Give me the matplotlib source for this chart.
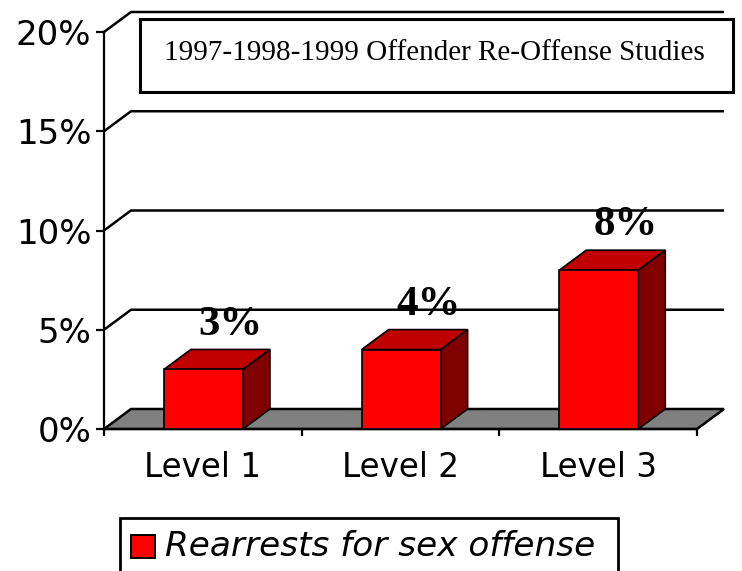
import matplotlib
matplotlib.use("Agg")
import matplotlib.pyplot as plt
from matplotlib.patches import Polygon, Rectangle

categories = ["Level 1", "Level 2", "Level 3"]
values = [3, 4, 8]
value_labels = ["3%", "4%", "8%"]
yticks = [0, 5, 10, 15, 20]
ytick_labels = ["0%", "5%", "10%", "15%", "20%"]
series_name = "Rearrests for sex offense"
box_title = "1997-1998-1999 Offender Re-Offense Studies"

W, H = 742, 571
fig = plt.figure(figsize=(W / 100, H / 100), dpi=100)
ax = fig.add_axes([104 / W, 1 - 429 / H, 593 / W, 397 / H])
ax.set_xlim(0, 3)
ax.set_ylim(0, 20)
ax.patch.set_visible(False)

# depth of the fake 3d, in data units
dx = 27 / (593 / 3)
dy = 20 / (397 / 20)
bar_w = 0.4

# floor
ax.add_patch(Polygon([(0, 0), (3, 0), (3 + dx, dy), (dx, dy)], closed=True,
                     facecolor="#808080", edgecolor="black", lw=1.8, clip_on=False, zorder=1))

# gridlines on wall and the side wall edge
for t in yticks:
    if t > 0:
        ax.plot([0, dx, 3 + dx], [t, t + dy, t + dy], color="black", lw=1.8,
                clip_on=False, zorder=1, solid_capstyle="butt")

# bars
for i, v in enumerate(values):
    x0 = i + 0.5 - bar_w / 2 + 0.003
    x1 = x0 + bar_w
    ax.add_patch(Polygon([(x0, v), (x1, v), (x1 + dx, v + dy), (x0 + dx, v + dy)], closed=True,
                         facecolor="#c00000", edgecolor="black", lw=1.2, clip_on=False, zorder=3))
    ax.add_patch(Polygon([(x1, 0), (x1 + dx, dy), (x1 + dx, v + dy), (x1, v)], closed=True,
                         facecolor="#800000", edgecolor="black", lw=1.2, clip_on=False, zorder=3))
    ax.add_patch(Rectangle((x0, 0), bar_w, v, facecolor="#ff0000", edgecolor="black",
                           lw=1.2, clip_on=False, zorder=4))
    ax.text(i + 0.5 + dx + 0.005, v + dy + 1.25, value_labels[i], ha="center", va="center",
            family="Liberation Serif", fontweight="bold", fontsize=31, zorder=5)

ax.set_yticks(yticks)
ax.set_yticklabels(ytick_labels, fontsize=24.5)
ax.set_xticks(range(4))
ax.set_xticklabels([])
ax.tick_params(axis="y", length=6, width=1.6, pad=3)
ax.tick_params(axis="x", length=5, width=1.6, direction="out")
for s in ["top", "right"]:
    ax.spines[s].set_visible(False)
for s in ["left", "bottom"]:
    ax.spines[s].set_linewidth(1.6)

for i, c in enumerate(categories):
    ax.annotate(c, (i + 0.5, 0), xytext=(0, -28), textcoords="offset points", ha="center",
                va="center", fontsize=23.5, annotation_clip=False)

# title box
fig.patches.append(Rectangle((140 / W, 1 - 92 / H), 593 / W, 73 / H, transform=fig.transFigure,
                             facecolor="white", edgecolor="black", lw=2.2, zorder=6))
fig.text(434 / W, 1 - 53 / H, box_title, ha="center", va="center", family="Liberation Serif",
         fontsize=21, zorder=7)

# legend box
fig.patches.append(Rectangle((120 / W, 1 - 575 / H), 498 / W, 57 / H, transform=fig.transFigure,
                             facecolor="white", edgecolor="black", lw=2, zorder=6))
fig.patches.append(Rectangle((131 / W, 1 - 558 / H), 24 / W, 23 / H, transform=fig.transFigure,
                             facecolor="#ff0000", edgecolor="black", lw=1.4, zorder=7))
fig.text(165 / W, 1 - 547 / H, series_name, ha="left", va="center", style="italic",
         fontsize=24.7, zorder=7)

fig.savefig("out.png", dpi=100)
